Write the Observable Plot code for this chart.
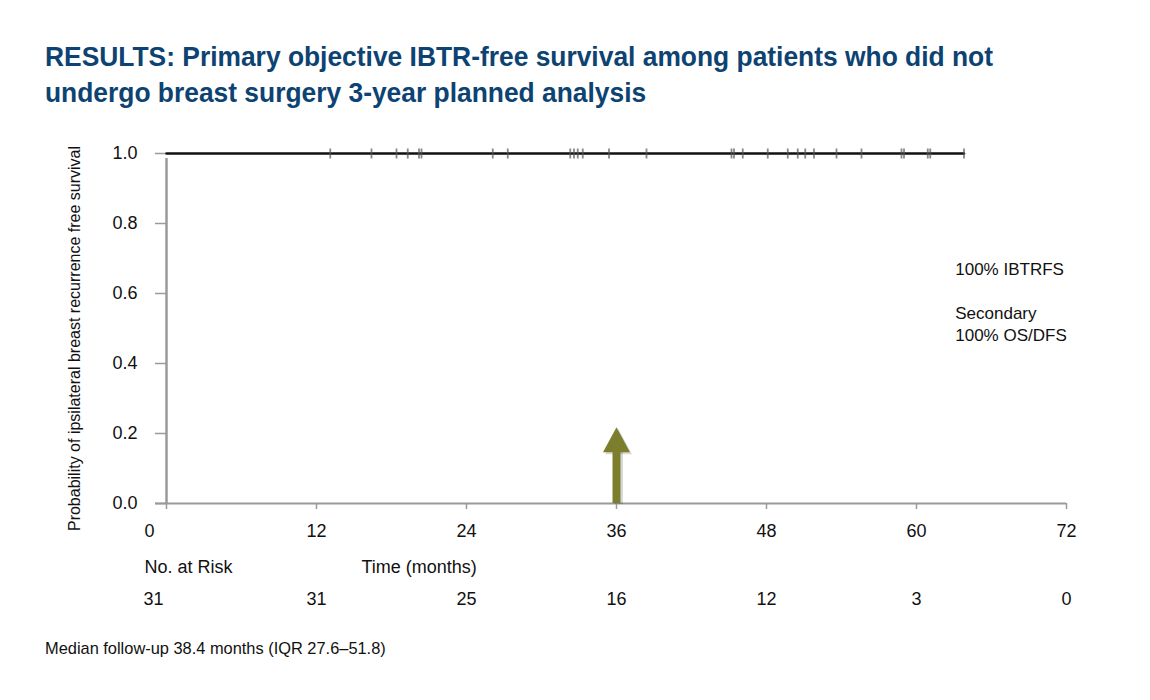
<!DOCTYPE html>
<html>
<head>
<meta charset="utf-8">
<script src="https://cdn.jsdelivr.net/npm/d3@7"></script>
<script src="https://cdn.jsdelivr.net/npm/@observablehq/plot@0.6"></script>
<style>
  html, body { margin: 0; padding: 0; background: #fff; }
  body { width: 1150px; height: 700px; position: relative; overflow: hidden;
         font-family: "Liberation Sans", Arial, sans-serif; }
  .tline { position: absolute; left: 45px; color: #0d4372; font-weight: bold;
           font-size: 28px; white-space: nowrap; transform-origin: 0 0; line-height: 1; }
  #chart { position: absolute; left: 0; top: 125px; }
  #caption { position: absolute; left: 45px; top: 639px; font-size: 16.4px; color: #111; white-space: nowrap; }
</style>
</head>
<body>
<div class="tline" id="t1" style="top:43px">RESULTS: Primary objective IBTR-free survival among patients who did not</div>
<div class="tline" id="t2" style="top:79px">undergo breast surgery 3-year planned analysis</div>
<div id="chart"></div>
<div id="caption">Median follow-up 38.4 months (IQR 27.6–51.8)</div>
<script>
// ---- data ----
const curveTimes = [0, 63.8];
const curveSurvival = [1.0, 1.0];
const censorTimes = [13.1, 16.4, 18.4, 19.3, 20.2, 20.4, 26.1, 27.3, 32.3, 32.6, 32.9, 33.3,
  35.4, 38.4, 45.2, 45.4, 46.1, 48.1, 49.7, 50.5, 51.1, 51.8, 53.6, 55.6, 58.8, 59.0, 60.9, 61.1, 63.8];
const xTicks = [0, 12, 24, 36, 48, 60, 72];
const yTicks = [0, 0.2, 0.4, 0.6, 0.8, 1.0];
const atRiskTimes = [0, 12, 24, 36, 48, 60, 72];
const atRiskCounts = [31, 31, 25, 16, 12, 3, 0];
const plannedAnalysis = 36;
const arrowTop = 0.149;
const notes = [{x: 63.1, y: 0.70, text: "100% IBTRFS"}, {x: 63.1, y: 0.575, text: "Secondary\n100% OS/DFS"}];

const curve = curveTimes.map((t, i) => ({t, s: curveSurvival[i]}));
const censors = censorTimes.map(t => ({t, s: 1}));
const atRisk = atRiskTimes.map((t, i) => ({t, n: atRiskCounts[i]}));

// condense title to the reference's width
const t1 = document.getElementById("t1"), t2 = document.getElementById("t2");
const k = 948 / t1.getBoundingClientRect().width;
t1.style.transform = `scaleX(${k})`;
t2.style.transform = `scaleX(${k})`;

const vtick = { draw(ctx, size) { ctx.moveTo(0, -5); ctx.lineTo(0, 5); } };
const headSym = { draw(ctx, size) { ctx.moveTo(0, -24); ctx.lineTo(13.5, 1); ctx.lineTo(-13.5, 1); ctx.closePath(); } };

const font = '"Liberation Sans", Arial, sans-serif';
const axisGray = "#9a9a9a";
const olive = "#7c7e2e";

const plot = Plot.plot({
  width: 1150,
  height: 500,
  marginTop: 28,
  marginBottom: 122,
  marginLeft: 166,
  marginRight: 84,
  style: { fontFamily: font, fontSize: "18px", color: "#111", background: "white" },
  x: { domain: [0, 72] },
  y: { domain: [0, 1] },
  marks: [
    Plot.ruleY([0], { x1: 0, x2: 72, stroke: axisGray, strokeWidth: 2, insetLeft: -11 }),
    Plot.ruleX([0], { y1: 0, y2: 1, stroke: axisGray, strokeWidth: 2.5, insetBottom: -5 }),
    Plot.axisY({ ticks: yTicks, tickFormat: ".1f", tickSize: 11, tickPadding: 18, stroke: axisGray, strokeWidth: 1.5, fill: "#111", fontSize: 18, label: null }),
    Plot.axisX({ ticks: xTicks, tickSize: 6, text: null, stroke: axisGray, strokeWidth: 1.5, label: null }),
    Plot.text(xTicks.filter(d => d > 0), { x: d => d, frameAnchor: "bottom", dy: 33, fontSize: 18, fill: "#111" }),
    Plot.text(xTicks.filter(d => d === 0), { x: d => d, frameAnchor: "bottom", dy: 33, dx: -17, fontSize: 18, fill: "#111" }),
    Plot.text(["Probability of ipsilateral breast recurrence free survival"], { frameAnchor: "left", textAnchor: "middle", dx: -92, dy: 10, rotate: -90, fontSize: 16, fill: "#111" }),
    Plot.line(curve, { x: "t", y: "s", curve: "step-after", stroke: "#111", strokeWidth: 2.5 }),
    Plot.dot(censors, { x: "t", y: "s", symbol: vtick, stroke: "#555", strokeWidth: 1.8, strokeOpacity: 0.7, r: 5 }),
    // planned-analysis arrow (soft shadow, then arrow)
    Plot.ruleX([plannedAnalysis], { y1: 0, y2: arrowTop, stroke: "#000", strokeOpacity: 0.15, strokeWidth: 9, dx: 2, dy: 1 }),
    Plot.dot([plannedAnalysis], { x: d => d, y: arrowTop, symbol: headSym, fill: "#000", fillOpacity: 0.15, dx: 2, dy: 2, r: 10 }),
    Plot.ruleX([plannedAnalysis], { y1: 0, y2: arrowTop, stroke: olive, strokeWidth: 8 }),
    Plot.dot([plannedAnalysis], { x: d => d, y: arrowTop, symbol: headSym, fill: olive, r: 10 }),
    Plot.text(notes, { x: "x", y: "y", text: "text", textAnchor: "start", lineAnchor: "top", lineHeight: 1.35, fontSize: 17, fill: "#111" }),
    Plot.text(["No. at Risk"], { frameAnchor: "bottom-left", dx: -22, dy: 69, textAnchor: "start", fontSize: 18, fill: "#111" }),
    Plot.text(["Time (months)"], { frameAnchor: "bottom-left", dx: 195, dy: 69, textAnchor: "start", fontSize: 18, fill: "#111" }),
    Plot.text(atRisk.filter(d => d.t > 0), { x: "t", text: "n", frameAnchor: "bottom", dy: 101, fontSize: 18, fill: "#111" }),
    Plot.text(atRisk.filter(d => d.t === 0), { x: "t", text: "n", frameAnchor: "bottom", dy: 101, dx: -13, fontSize: 18, fill: "#111" })
  ]
});
document.getElementById("chart").appendChild(plot);
</script>
</body>
</html>
